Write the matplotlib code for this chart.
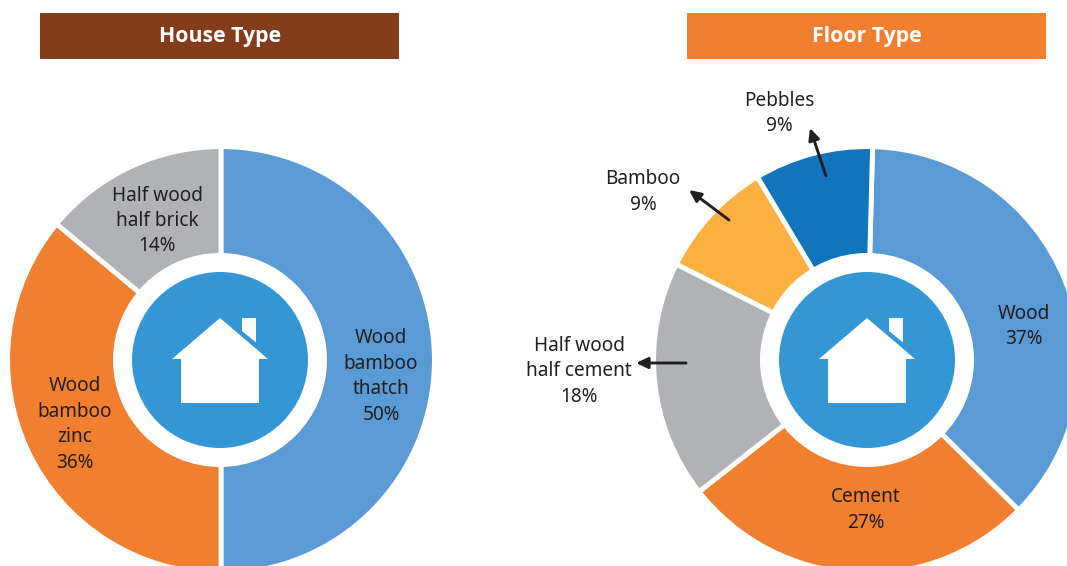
import matplotlib
matplotlib.use("Agg")
import matplotlib.pyplot as plt
from matplotlib.patches import Circle, Polygon, Rectangle

plt.rcParams['font.family'] = ['Noto Sans', 'DejaVu Sans']

# data
house_labels = ["Wood\nbamboo\nthatch\n50%", "Half wood\nhalf brick\n14%", "Wood\nbamboo\nzinc\n36%"]
house_values = [50, 36, 14]
house_colors = ["#5B9BD5", "#F07F30", "#B1B2B5"]

floor_labels = ["Wood\n37%", "Cement\n27%", "Half wood\nhalf cement\n18%", "Bamboo\n9%", "Pebbles\n9%"]
floor_values = [37, 27, 18, 9, 9]
floor_colors = ["#5B9BD5", "#F07F30", "#B1B2B5", "#FDB040", "#1175BE"]

H = 566
TXT = "#231F20"


def Y(y):
    # picture y (from the top) to axes y
    return H - y


def donut(ax, cx, ring_cx, start, values, colors):
    ax.pie(values, colors=colors, center=(ring_cx, Y(360)), radius=213.4, startangle=start,
           counterclock=False, frame=True,
           wedgeprops=dict(edgecolor="white", linewidth=3.5))
    ax.add_patch(Circle((cx, Y(360)), 107, fc="white", ec="none", zorder=3))
    ax.add_patch(Circle((cx, Y(360)), 88, fc="#3496D5", ec="none", zorder=4))
    # little house
    body = [(0, 318), (48, 359), (39, 359), (39, 403), (-39, 403), (-39, 359), (-48, 359)]
    ax.add_patch(Polygon([(cx + a, Y(b)) for a, b in body], fc="white", ec="none", zorder=5))
    chimney = [(22, 318), (36, 318), (36, 342.5), (22, 331)]
    ax.add_patch(Polygon([(cx + a, Y(b)) for a, b in chimney], fc="white", ec="none", zorder=5))


def title_bar(ax, x0, color, text):
    ax.add_patch(Rectangle((x0, Y(59)), 359, 46, fc=color, ec="none", zorder=6))
    ax.text(x0 + 180, Y(36.5), text, color="white", fontsize=15.3, fontweight="bold",
            family="Open Sans", ha="center", va="center", zorder=7)


def label(ax, x, y, text):
    ax.text(x, Y(y), text, color=TXT, fontsize=13.7, ha="center", va="center",
            linespacing=1.36, zorder=8)


def arrow(ax, x0, y0, x1, y1):
    ax.annotate("", xy=(x1, Y(y1)), xytext=(x0, Y(y0)), zorder=8,
                arrowprops=dict(arrowstyle="-|>,head_length=0.7,head_width=0.33",
                                color=TXT, lw=2.1, shrinkA=0, shrinkB=0))


fig = plt.figure(figsize=(10.67, 5.66), dpi=100)
ax = fig.add_axes([0, 0, 1, 1])

donut(ax, 220, 221, 90, house_values, house_colors)
donut(ax, 867, 867, 88.5, floor_values, floor_colors)

title_bar(ax, 40, "#843C1A", "House Type")
title_bar(ax, 687, "#F07F30", "Floor Type")

label(ax, 381, 376.5, house_labels[0])
label(ax, 157, 221, house_labels[1])
label(ax, 75, 424.5, house_labels[2])

label(ax, 1024, 326.5, floor_labels[0])
label(ax, 866, 510, floor_labels[1])
label(ax, 579, 371.5, floor_labels[2])
label(ax, 643, 192, floor_labels[3])
label(ax, 779, 113.5, floor_labels[4])

arrow(ax, 826, 176, 810, 128)
arrow(ax, 729, 220, 689, 190)
arrow(ax, 686, 363, 636, 363)

ax.set_aspect("equal")
ax.set_xlim(0, 1067)
ax.set_ylim(0, H)
ax.axis("off")

fig.savefig("out.png", dpi=100, facecolor="white")
